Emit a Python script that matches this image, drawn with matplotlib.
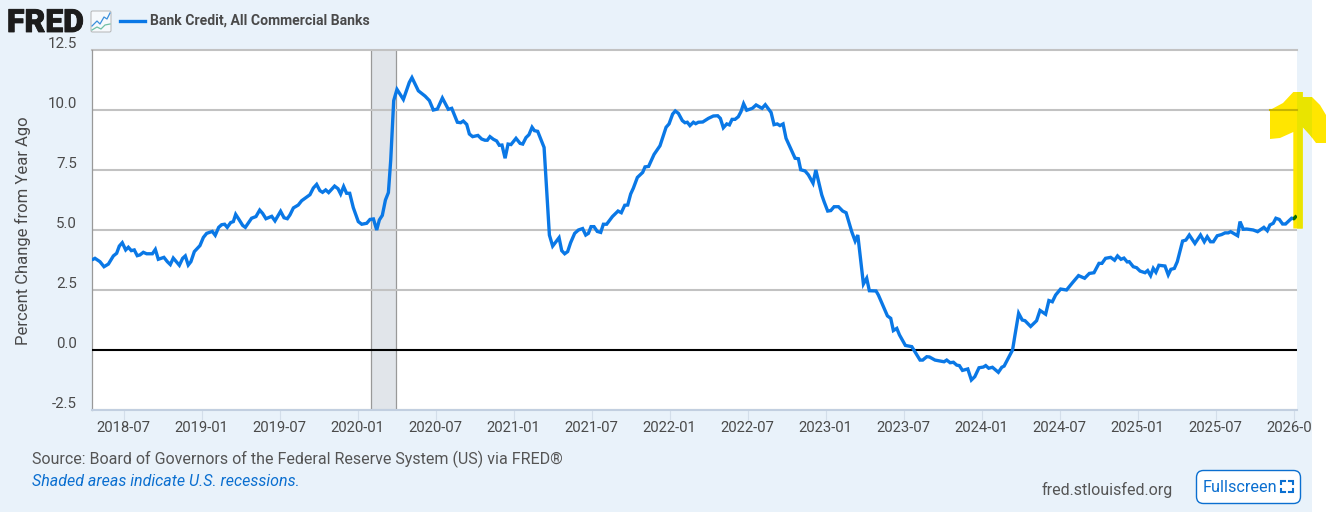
import matplotlib
matplotlib.use("Agg")
import matplotlib.pyplot as plt
import matplotlib.patheffects as pe
from matplotlib.patches import Polygon, Rectangle, FancyBboxPatch
from matplotlib.lines import Line2D
from matplotlib.transforms import Affine2D, Bbox, ScaledTranslation

W, H, DPI = 1327, 512, 100
plt.rcParams['font.family'] = ['Roboto', 'DejaVu Sans']

years = [
 2018.296,2018.317,2018.349,2018.375,2018.403,2018.435,2018.456,2018.473,2018.492,2018.514,
 2018.531,2018.55,2018.569,2018.588,2018.605,2018.627,2018.648,2018.685,2018.704,2018.723,
 2018.759,2018.781,2018.8,2018.819,2018.858,2018.879,2018.896,2018.915,2018.932,2018.954,
 2018.99,2019.012,2019.033,2019.069,2019.088,2019.11,2019.129,2019.148,2019.165,2019.187,
 2019.204,2019.219,2019.24,2019.264,2019.281,2019.321,2019.349,2019.373,2019.392,2019.413,
 2019.45,2019.471,2019.507,2019.529,2019.55,2019.567,2019.589,2019.62,2019.642,2019.695,
 2019.717,2019.738,2019.759,2019.776,2019.796,2019.815,2019.853,2019.875,2019.892,2019.911,
 2019.93,2019.95,2019.973,2020.005,2020.027,2020.059,2020.08,2020.102,2020.123,2020.14,
 2020.159,2020.179,2020.198,2020.213,2020.232,2020.253,2020.294,2020.315,2020.332,2020.349,
 2020.39,2020.433,2020.461,2020.486,2020.512,2020.544,2020.582,2020.604,2020.64,2020.661,
 2020.678,2020.7,2020.717,2020.738,2020.772,2020.796,2020.817,2020.832,2020.849,2020.871,
 2020.892,2020.909,2020.926,2020.946,2020.965,2020.984,2021.016,2021.042,2021.059,2021.08,
 2021.099,2021.119,2021.134,2021.155,2021.196,2021.23,2021.251,2021.292,2021.309,2021.328,
 2021.347,2021.366,2021.392,2021.416,2021.443,2021.463,2021.48,2021.497,2021.516,2021.537,
 2021.559,2021.576,2021.597,2021.634,2021.67,2021.691,2021.713,2021.732,2021.751,2021.768,
 2021.794,2021.828,2021.843,2021.866,2021.901,2021.939,2021.978,2021.997,2022.02,2022.037,
 2022.057,2022.082,2022.099,2022.114,2022.131,2022.153,2022.168,2022.185,2022.213,2022.249,
 2022.281,2022.309,2022.326,2022.345,2022.367,2022.384,2022.401,2022.42,2022.441,2022.458,
 2022.475,2022.495,2022.531,2022.555,2022.593,2022.614,2022.651,2022.67,2022.691,2022.708,
 2022.728,2022.747,2022.805,2022.826,2022.841,2022.869,2022.89,2022.92,2022.938,2022.976,
 2022.991,2023.014,2023.034,2023.055,2023.083,2023.11,2023.132,2023.168,2023.19,2023.207,
 2023.243,2023.264,2023.281,2023.324,2023.339,2023.397,2023.418,2023.435,2023.457,2023.474,
 2023.512,2023.553,2023.606,2023.623,2023.649,2023.666,2023.702,2023.76,2023.777,2023.799,
 2023.82,2023.841,2023.858,2023.878,2023.912,2023.935,2023.957,2023.984,2024.012,2024.027,
 2024.046,2024.07,2024.108,2024.13,2024.145,2024.199,2024.214,2024.238,2024.261,2024.279,
 2024.315,2024.353,2024.375,2024.411,2024.432,2024.454,2024.475,2024.507,2024.545,2024.584,
 2024.622,2024.661,2024.691,2024.721,2024.753,2024.772,2024.795,2024.828,2024.853,2024.872,
 2024.894,2024.913,2024.934,2024.947,2024.973,2024.994,2025.016,2025.048,2025.065,2025.084,
 2025.101,2025.118,2025.137,2025.176,2025.197,2025.214,2025.236,2025.255,2025.289,2025.31,
 2025.332,2025.368,2025.404,2025.428,2025.447,2025.468,2025.486,2025.511,2025.539,2025.561,
 2025.582,2025.597,2025.642,2025.657,2025.678,2025.7,2025.742,2025.77,2025.81,2025.832,
 2025.849,2025.87,2025.887,2025.909,2025.93,2025.949,2025.988,2026.003,2026.02]
values = [
 3.75,3.82,3.68,3.47,3.58,3.92,4.03,4.33,4.47,4.17,
 4.28,4.14,4.17,3.93,3.96,4.07,4.01,4.01,4.19,3.78,
 3.86,3.68,3.56,3.83,3.53,3.82,3.92,3.54,3.68,4.1,
 4.35,4.69,4.86,4.94,4.78,5.11,5.22,5.24,5.11,5.31,
 5.35,5.65,5.44,5.19,5.11,5.49,5.56,5.83,5.69,5.47,
 5.57,5.38,5.78,5.51,5.47,5.63,5.92,6.04,6.22,6.47,
 6.75,6.9,6.64,6.57,6.67,6.56,6.83,6.72,6.5,6.81,
 6.53,6.53,5.93,5.35,5.24,5.28,5.44,5.46,5.0,5.42,
 5.61,6.25,6.56,7.92,10.39,10.86,10.44,10.83,11.15,11.35,
 10.8,10.58,10.39,10.0,10.04,10.5,10.03,10.07,9.49,9.47,
 9.54,9.4,9.0,8.89,8.94,8.79,8.74,8.74,8.89,8.78,
 8.71,8.53,8.54,7.99,8.58,8.56,8.82,8.61,8.58,8.85,
 8.97,9.28,9.14,9.11,8.44,4.79,4.33,4.68,4.14,4.01,
 4.1,4.47,4.86,5.0,5.06,4.79,4.86,5.14,5.14,4.94,
 4.9,5.24,5.24,5.56,5.79,5.72,6.03,6.04,6.5,6.74,
 7.19,7.4,7.63,7.65,8.15,8.51,9.28,9.42,9.83,9.96,
 9.86,9.56,9.47,9.49,9.35,9.49,9.43,9.49,9.5,9.65,
 9.75,9.76,9.65,9.26,9.42,9.38,9.61,9.61,9.72,9.93,
 10.26,9.99,10.07,10.21,10.07,10.22,9.9,9.39,9.42,9.35,
 9.42,8.82,7.99,7.97,7.51,7.46,7.3,6.95,7.5,6.46,
 6.18,5.79,5.81,5.97,5.97,5.79,5.72,4.93,4.54,4.79,
 2.75,2.99,2.47,2.46,2.29,1.42,1.32,0.81,0.9,0.63,
 0.19,0.14,-0.42,-0.42,-0.28,-0.29,-0.42,-0.49,-0.42,-0.53,
 -0.51,-0.63,-0.65,-0.85,-0.79,-1.25,-1.11,-0.74,-0.71,-0.65,
 -0.76,-0.72,-0.93,-0.72,-0.67,0.0,0.6,1.53,1.25,1.22,
 0.98,1.22,1.65,1.49,2.06,2.01,2.29,2.54,2.5,2.81,
 3.1,2.99,3.19,3.22,3.61,3.61,3.82,3.86,3.74,3.92,
 3.78,3.83,3.67,3.68,3.47,3.43,3.29,3.22,3.31,3.1,
 3.4,3.24,3.53,3.5,3.13,3.36,3.4,3.68,4.54,4.58,
 4.79,4.44,4.79,4.51,4.72,4.51,4.51,4.76,4.81,4.88,
 4.88,4.93,4.76,5.35,5.03,5.04,5.0,4.93,5.11,4.97,
 5.21,5.28,5.49,5.44,5.25,5.25,5.49,5.47,5.6]
recession = [2020.085, 2020.247]
y_ticks = [-2.5, 0.0, 2.5, 5.0, 7.5, 10.0, 12.5]
x_ticks = [2018.5 + 0.5 * i for i in range(16)]
x_labels = ['2018-07','2019-01','2019-07','2020-01','2020-07','2021-01','2021-07','2022-01',
            '2022-07','2023-01','2023-07','2024-01','2024-07','2025-01','2025-07','2026-01']
series_name = 'Bank Credit, All Commercial Banks'

BG = '#e9f2fa'; BLUE = '#0a78e6'; GRID = '#c2c2c2'; TXT = '#4a4a4a'; LINK = '#0b6fd0'
YEL = '#ffe600'; YEL_BG = '#e9e400'; YEL_GRID = '#c6b400'; GREEN = '#0a6c00'

fig = plt.figure(figsize=(W/DPI, H/DPI), dpi=DPI, facecolor='white')
pix = Affine2D().scale(1, -1).translate(0, H)   # top-left pixel coordinates

fig.add_artist(Rectangle((0, 0), 1312, 512, transform=pix, fc=BG, ec='none', zorder=-10))

L, R, T, B = 92, 1297, 50, 410
ax = fig.add_axes([L/W, 1-B/H, (R-L)/W, (B-T)/H], facecolor='white')
ax.set_xlim(2018.298, 2026.0224)
ax.set_ylim(-2.5, 12.5)

ax.axvspan(*recession, fc='#e1e5ea', ec='none', zorder=1)
for x in recession:
    ax.axvline(x, color='#999999', lw=0.9, zorder=1.5)

ax.set_yticks(y_ticks)
ax.set_yticklabels([f'{v:.1f}' for v in y_ticks])
ax.set_xticks(x_ticks)
ax.set_xticklabels(x_labels)
for v in y_ticks:
    if v != 0:
        ax.axhline(v, color=GRID, lw=1.5, zorder=2, clip_on=False if v == 12.5 else True)
ax.axhline(0, color='black', lw=1.5, zorder=3)
ax.plot(years, values, color=BLUE, lw=2.4, zorder=4, solid_joinstyle='miter', solid_capstyle='butt')

for s in ('top', 'right'):
    ax.spines[s].set_visible(False)
ax.spines['left'].set_color('#999999'); ax.spines['left'].set_linewidth(0.9)
ax.spines['bottom'].set_color('#c2cfe0'); ax.spines['bottom'].set_linewidth(1.5)
ax.spines['bottom'].set_zorder(2.5)

ax.tick_params(axis='y', length=0, pad=10.8, labelsize=10.8, labelcolor=TXT)
ax.tick_params(axis='x', length=7.2, width=0.8, color='#d3deea', pad=0.5, labelsize=10.7, labelcolor=TXT)
up = ScaledTranslation(0, 7/DPI, fig.dpi_scale_trans)
for lab in ax.get_yticklabels():
    lab.set_transform(lab.get_transform() + up)
for lab in ax.get_xticklabels():
    lab.set_clip_box(Bbox.from_extents(0, 0, 1312, H))
    lab.set_clip_on(True)
ax.set_ylabel('Percent Change from Year Ago', fontsize=12, color=TXT)
ax.yaxis.set_label_coords(31/W, 1-230.5/H, transform=fig.transFigure)

# header
fred = fig.text(7/W, 1-32/H, 'FRED', fontsize=23, fontweight='black', color='#1c1c1c', va='baseline')
fred.set_path_effects([pe.withStroke(linewidth=0.6, foreground='#1c1c1c')])
fig.add_artist(FancyBboxPatch((91, 11), 20, 21, boxstyle='round,pad=0,rounding_size=1.5', transform=pix,
                              fc='#f6f9fc', ec='#b5b5b5', lw=0.7))
for col, xs, ys in (('#3a8fdc', [92, 97, 100, 104, 107, 110], [26, 21, 24, 17, 19, 13]),
                    ('#6fbfa5', [92, 97, 101, 105, 110], [30, 27, 29, 25, 24])):
    fig.add_artist(Line2D(xs, ys, transform=pix, color=col, lw=0.9))
fig.add_artist(Line2D([120, 145], [21, 21], transform=pix, color=BLUE, lw=2.4))
fig.text(150/W, 1-20.5/H, series_name, fontsize=10.1, fontweight='bold', color=TXT, va='center')

# footer
fig.text(32/W, 1-459.5/H, 'Source: Board of Governors of the Federal Reserve System (US) via FRED\u00ae',
         fontsize=11.5, color='#555555', va='center')
fig.text(32/W, 1-482/H, 'Shaded areas indicate U.S. recessions.', fontsize=11.5, style='italic', color=LINK, va='center')
fig.text(1042/W, 1-490/H, 'fred.stlouisfed.org', fontsize=11.5, color='#555555', va='center')
fig.add_artist(FancyBboxPatch((1196.5, 470.5), 104, 33, boxstyle='round,pad=0,rounding_size=7', transform=pix,
                              fc='white', ec=LINK, lw=1.0))
fig.text(1203/W, 1-487/H, 'Fullscreen', fontsize=11.7, color=LINK, va='center')
for xs, ys in (([1281, 1281, 1285], [484, 481, 481]), ([1289, 1293, 1293], [481, 481, 484]),
               ([1281, 1281, 1285], [489, 492, 492]), ([1289, 1293, 1293], [492, 492, 489])):
    fig.add_artist(Line2D(xs, ys, transform=pix, color=LINK, lw=1.5, solid_joinstyle='miter'))

# hand-drawn yellow arrow laid over the chart
arrow = [(1293.3, 128), (1293.3, 132), (1280, 138), (1270, 139), (1270, 110), (1283, 103), (1293.3, 92),
         (1302.7, 92), (1302.7, 97), (1312, 97), (1320, 105), (1326, 115), (1326, 143), (1316, 143),
         (1310, 135), (1302.7, 127), (1302.7, 228.5), (1293.3, 228.5)]
fig.add_artist(Polygon(arrow, closed=True, transform=pix, fc=YEL, ec='none', zorder=10))
band = Polygon(arrow, closed=True, transform=pix, fc=YEL_BG, ec='none', zorder=10.1)
fig.add_artist(band)
band.set_clip_box(Bbox.from_extents(1297, 0, 1312, H)); band.set_clip_on(True)
fig.add_artist(Line2D([1270, 1297], [110, 110], transform=pix, color=YEL_GRID, lw=1.5, zorder=10.2))
tail = Line2D(years[-3:], values[-3:], transform=ax.transData, color=GREEN, lw=2.4, zorder=10.3, solid_capstyle='butt')
fig.add_artist(tail)
tail.set_clip_box(Bbox.from_extents(1293.3, 0, 1297, H)); tail.set_clip_on(True)

fig.savefig('out.png', dpi=DPI, facecolor='white')
